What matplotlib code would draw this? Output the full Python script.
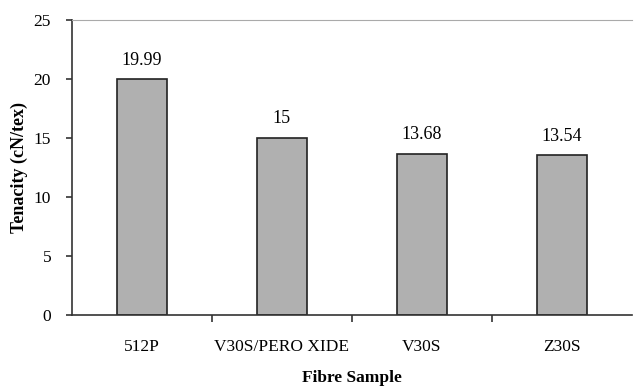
import matplotlib
matplotlib.use('Agg')
import matplotlib.pyplot as plt
import numpy as np

samples = ["512P", "V30S/PERO XIDE", "V30S", "Z30S"]
tenacity = [19.99, 15, 13.68, 13.54]
value_labels = ["19.99", "15", "13.68", "13.54"]

plt.rcParams['font.family'] = ['Liberation Serif', 'DejaVu Serif']

fig = plt.figure(figsize=(6.42, 3.86), dpi=100)
ax = fig.add_axes([0.112, 0.184, 0.872, 0.764])

x = np.arange(len(samples))
bars = ax.bar(x, tenacity, width=0.36, color="#b0b0b0", edgecolor="#222222", linewidth=1.2)
for b, lab in zip(bars, value_labels):
    ax.text(b.get_x() + b.get_width() / 2, b.get_height() + 0.9, lab,
            ha="center", va="bottom", fontsize=13)

ax.set_xlim(-0.5, 3.5)
ax.set_ylim(0, 25)
ax.set_yticks([0, 5, 10, 15, 20, 25])
ax.set_xticks(x)
ax.set_xticklabels(samples, fontsize=12.5)
ax.set_xticks([0.5, 1.5, 2.5], minor=True)
ax.tick_params(axis="x", which="major", length=0, pad=17)
ax.tick_params(axis="x", which="minor", length=5, width=1.2, direction="out", color="#333333")
ax.tick_params(axis="y", length=4, width=1.2, labelsize=12.5, pad=11, color="#333333")

ax.spines["right"].set_visible(False)
ax.spines["top"].set_color("#aaaaaa")
ax.spines["left"].set_color("#333333")
ax.spines["bottom"].set_color("#333333")
ax.spines["left"].set_linewidth(1.2)
ax.spines["bottom"].set_linewidth(1.2)

ax.set_xlabel("Fibre Sample", fontsize=12.5, fontweight="bold", labelpad=11)
ax.set_ylabel("Tenacity (cN/tex)", fontsize=13, fontweight="bold", labelpad=4)

plt.savefig("out.png", dpi=100)
